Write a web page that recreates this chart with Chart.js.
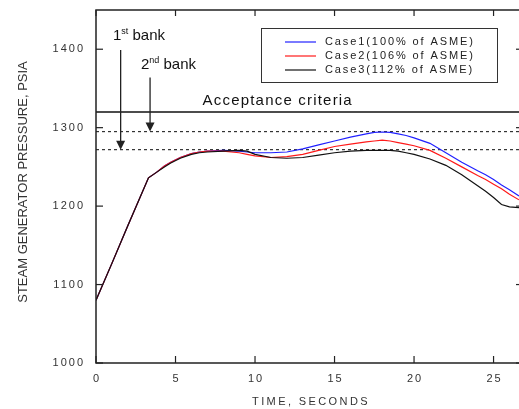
<!DOCTYPE html>
<html lang="en">
<head>
    <meta charset="UTF-8">
    <title>Steam Generator Pressure</title>
    <script src="https://cdn.jsdelivr.net/npm/chart.js"></script>
    <style>
        body { margin: 0; background: #fff; }
        #wrap { width: 519px; height: 409px; }
    </style>
</head>
<body>
<div id="wrap"><canvas id="chart" width="519" height="409"></canvas></div>

<script>
    // time axis (seconds) shared by the three cases
    var timeSec = [0, 1, 2, 3.3, 3.8, 4.3, 4.7, 5.3, 6, 6.5, 7, 8, 9, 9.5, 10, 11, 12, 13, 14, 15, 16, 17, 17.5, 18, 18.5, 19, 19.5, 20, 21, 22, 23, 24, 24.5, 25, 25.5, 26, 26.6];

    // steam generator pressure, psia
    var case1 = [1080, 1127, 1175, 1236, 1243, 1251, 1256, 1262, 1267, 1269, 1270, 1271, 1270, 1269, 1268, 1268, 1269, 1273, 1278, 1283, 1288, 1292, 1294, 1294.5, 1294, 1292, 1290, 1287, 1280, 1268, 1256, 1245, 1240, 1234, 1227, 1221, 1213];
    var case2 = [1080, 1127, 1175, 1236, 1243, 1251, 1256, 1262, 1267, 1269, 1270, 1270, 1268, 1266, 1264, 1262, 1263, 1266, 1271, 1276, 1279, 1282, 1283, 1284, 1283, 1281, 1279, 1277, 1271, 1261, 1250, 1239, 1234, 1228, 1222, 1215, 1208];
    var case3 = [1080, 1127, 1175, 1236, 1243, 1250, 1255, 1261, 1266, 1268, 1269, 1270, 1271, 1270, 1266, 1262, 1261, 1262, 1265, 1268, 1270, 1271, 1271, 1271, 1271, 1270, 1268, 1266, 1260, 1252, 1240, 1226, 1219, 1211, 1202, 1199, 1198];

    var caseLabels = ['Case1(100% of ASME)', 'Case2(106% of ASME)', 'Case3(112% of ASME)'];
    var caseColors = ['#2020ff', '#ff1a1a', '#111111'];

    var xTicks = [0, 5, 10, 15, 20, 25];
    var yTicks = [1000, 1100, 1200, 1300, 1400];

    var acceptance = 1320;
    var bankLevels = [1272, 1295];       // dotted lines
    var bankTimes = [1.55, 3.4];         // arrow positions
    var bankArrowTop = [1399, 1364];
    var bankLabels = [['1', 'st', ' bank'], ['2', 'nd', ' bank']];
    var bankLabelPos = [[1.07, 1417], [2.83, 1380]];

    var xMin = 0, xMax = 26.6, yMin = 1000, yMax = 1450;

    function pts(vals) {
        return timeSec.map(function (t, i) { return { x: t, y: vals[i] }; });
    }
    function flat(v) {
        return [{ x: xMin, y: v }, { x: xMax, y: v }];
    }

    var datasets = [case3, case2, case1].map(function (vals, k) {
        var idx = 2 - k;
        return {
            label: caseLabels[idx],
            data: pts(vals),
            borderColor: caseColors[idx],
            borderWidth: 1.2,
            pointRadius: 0,
            tension: 0,
            fill: false
        };
    });
    datasets.push({ data: flat(acceptance), borderColor: '#111', borderWidth: 1.5, pointRadius: 0 });
    bankLevels.forEach(function (v) {
        datasets.push({ data: flat(v), borderColor: '#333', borderWidth: 1.2, borderDash: [3, 3], pointRadius: 0 });
    });

    var font = '"Liberation Sans", Arial, sans-serif';

    var overlay = {
        id: 'overlay',
        afterDraw: function (chart) {
            var ctx = chart.ctx, a = chart.chartArea, x = chart.scales.x, y = chart.scales.y;
            function seg(x1, y1, x2, y2) { ctx.beginPath(); ctx.moveTo(x1, y1); ctx.lineTo(x2, y2); ctx.stroke(); }
            ctx.save();

            // frame + inward ticks
            ctx.strokeStyle = '#222';
            ctx.lineWidth = 1.5;
            ctx.beginPath();
            ctx.moveTo(a.right, a.top); ctx.lineTo(a.left, a.top);
            ctx.lineTo(a.left, a.bottom); ctx.lineTo(a.right, a.bottom);
            ctx.stroke();
            ctx.lineWidth = 1.2;
            yTicks.forEach(function (v) {
                var py = y.getPixelForValue(v);
                seg(a.left, py, a.left + 7, py);
                seg(a.right, py, a.right - 3, py);
            });
            xTicks.forEach(function (v) {
                var px = x.getPixelForValue(v);
                seg(px, a.bottom, px, a.bottom - 7);
                seg(px, a.top, px, a.top + 6);
            });

            // tick labels
            ctx.fillStyle = '#333';
            ctx.font = '11px ' + font;
            ctx.letterSpacing = '2px';
            ctx.textBaseline = 'middle';
            ctx.textAlign = 'right';
            yTicks.forEach(function (v) {
                ctx.fillText(String(v), a.left - 11, y.getPixelForValue(v));
            });
            ctx.textAlign = 'center';
            xTicks.forEach(function (v) {
                ctx.fillText(String(v), x.getPixelForValue(v) + 1, a.bottom + 16);
            });

            // axis titles
            ctx.letterSpacing = '2.4px';
            ctx.fillText('TIME, SECONDS', 311, 402);
            ctx.letterSpacing = '0px';
            ctx.save();
            ctx.translate(23, 182);
            ctx.rotate(-Math.PI / 2);
            ctx.font = '13px ' + font;
            ctx.fillText('STEAM GENERATOR PRESSURE, PSIA', 0, 0);
            ctx.restore();

            // bank arrows
            ctx.strokeStyle = '#222';
            ctx.fillStyle = '#222';
            ctx.lineWidth = 1.3;
            bankTimes.forEach(function (t, i) {
                var px = x.getPixelForValue(t);
                var top = y.getPixelForValue(bankArrowTop[i]);
                var tip = y.getPixelForValue(bankLevels[i]);
                seg(px, top, px, tip - 7);
                ctx.beginPath();
                ctx.moveTo(px - 4.5, tip - 9);
                ctx.lineTo(px + 4.5, tip - 9);
                ctx.lineTo(px, tip);
                ctx.closePath();
                ctx.fill();
            });

            // bank labels with superscripts
            ctx.fillStyle = '#111';
            ctx.textAlign = 'left';
            ctx.textBaseline = 'middle';
            bankLabels.forEach(function (parts, i) {
                var px = x.getPixelForValue(bankLabelPos[i][0]);
                var py = y.getPixelForValue(bankLabelPos[i][1]);
                ctx.font = '15px ' + font;
                ctx.fillText(parts[0], px, py);
                px += ctx.measureText(parts[0]).width;
                ctx.font = '9px ' + font;
                ctx.fillText(parts[1], px, py - 4);
                px += ctx.measureText(parts[1]).width;
                ctx.font = '15px ' + font;
                ctx.fillText(parts[2], px, py);
            });

            // acceptance label
            ctx.font = '15px ' + font;
            ctx.letterSpacing = '1.2px';
            ctx.fillText('Acceptance criteria', x.getPixelForValue(6.7), y.getPixelForValue(1334));

            // legend box
            ctx.letterSpacing = '1.9px';
            ctx.font = '11px ' + font;
            ctx.strokeStyle = '#333';
            ctx.lineWidth = 1;
            ctx.fillStyle = '#fff';
            ctx.fillRect(261.5, 28.5, 236, 54);
            ctx.strokeRect(261.5, 28.5, 236, 54);
            caseLabels.forEach(function (lab, i) {
                var ly = 42 + i * 14;
                ctx.strokeStyle = caseColors[i];
                ctx.lineWidth = 1.2;
                seg(285, ly, 316, ly);
                ctx.fillStyle = '#222';
                ctx.fillText(lab, 325, ly);
            });

            ctx.restore();
        }
    };

    new Chart(document.getElementById('chart'), {
        type: 'line',
        data: { datasets: datasets },
        options: {
            responsive: false,
            animation: false,
            devicePixelRatio: 1,
            layout: { padding: { left: 96, top: 10, right: 0, bottom: 46 } },
            plugins: { legend: { display: false }, tooltip: { enabled: false } },
            scales: {
                x: { type: 'linear', min: xMin, max: xMax, display: false },
                y: { type: 'linear', min: yMin, max: yMax, display: false }
            }
        },
        plugins: [overlay]
    });
</script>
</body>
</html>
